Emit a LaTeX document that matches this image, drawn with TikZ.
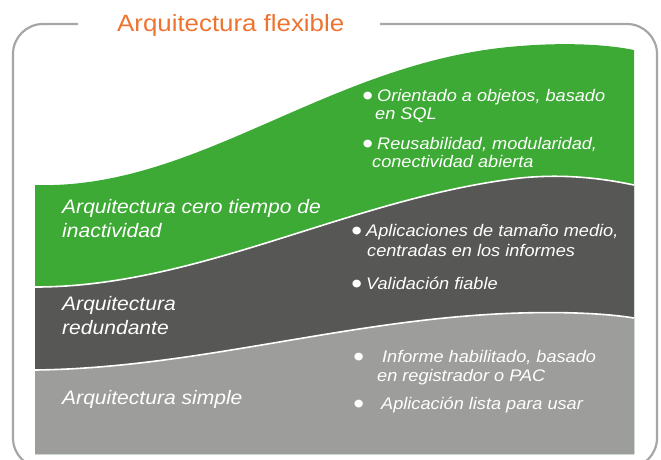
\documentclass[tikz,border=0pt]{standalone}
\usepackage{fontspec}
\usepackage{graphicx}
\setmainfont{Liberation Sans}
\newfontfamily\wideit[FakeStretch=1.08]{Liberation Sans}
\newfontfamily\widetitle[FakeStretch=1.1]{Liberation Sans}
\newcommand{\bul}{\raisebox{-4.3pt}{\scalebox{1.7}{\textbullet}}}
\begin{document}
\begin{tikzpicture}[x=1pt,y=-1pt,
  lbl/.style={anchor=base west, text=white, font=\wideit\fontsize{19.5}{24}\selectfont\itshape, inner sep=0pt},
  itm/.style={anchor=base west, text=white, font=\wideit\fontsize{16.8}{19}\selectfont\itshape, inner sep=0pt},
  sep/.style={draw=white, line width=1.6pt}]
\definecolor{fgreen}{HTML}{3DAA35}
\definecolor{fdark}{HTML}{575756}
\definecolor{flight}{HTML}{9D9D9C}
\definecolor{forange}{HTML}{EE7330}
\definecolor{fframe}{HTML}{A4A7AA}
\useasboundingbox (0,0) rectangle (661,459);
% frame
\draw[fframe, line width=2.2pt, rounded corners=30] (78,24) -- (13,24) -- (13,468) -- (657,468) -- (657,24) -- (380,24);
\node[anchor=base west, text=forange, font=\widetitle\fontsize{23.5}{26}\selectfont, inner sep=0pt] (title) at (117,31) {Arquitectura flexible};
% bands
\fill[fgreen] (35,185) .. controls (200,190) and (330,60) .. (520,46) .. controls (570,42) and (610,45) .. (634,50) -- (634,454) -- (35,454) -- cycle;
\fill[fdark] (35,287) .. controls (200,287) and (350,198) .. (520,178) .. controls (570,173) and (610,180) .. (634,185) -- (634,454) -- (35,454) -- cycle;
\draw[sep] (35,287) .. controls (200,287) and (350,198) .. (520,178) .. controls (570,173) and (610,180) .. (634,185);
\fill[flight] (35,370) .. controls (200,368) and (350,318) .. (520,313) .. controls (570,311.5) and (610,314) .. (634,318) -- (634,454) -- (35,454) -- cycle;
\draw[sep] (35,370) .. controls (200,368) and (350,318) .. (520,313) .. controls (570,311.5) and (610,314) .. (634,318);
% left labels
\node[lbl] (l1a) at (62,213) {Arquitectura cero tiempo de};
\node[lbl] (l1b) at (62,237) {inactividad};
\node[lbl] (l2a) at (62,310) {Arquitectura};
\node[lbl] (l2b) at (62,334) {redundante};
\node[lbl] (l3) at (62,404) {Arquitectura simple};
% green items
\node[itm] (g1a) at (362,101) {\makebox[15pt][l]{\bul}Orientado a objetos, basado};
\node[itm] (g1b) at (375,119.5) {en SQL};
\node[itm] (g2a) at (362,149) {\makebox[15pt][l]{\bul}Reusabilidad, modularidad,};
\node[itm] (g2b) at (372,167.5) {conectividad abierta};
% dark items
\node[itm] (d1a) at (351,236) {\makebox[15pt][l]{\bul}Aplicaciones de tamaño medio,};
\node[itm] (d1b) at (367,256) {centradas en los informes};
\node[itm] (d2) at (351,289) {\makebox[15pt][l]{\bul}Validación fiable};
% light items
\node[itm] (w1a) at (353,362) {\makebox[29pt][l]{\bul}Informe habilitado, basado};
\node[itm] (w1b) at (377,381) {en registrador o PAC};
\node[itm] (w2) at (353,409) {\makebox[28pt][l]{\bul}Aplicación lista para usar};
\end{tikzpicture}
\end{document}
